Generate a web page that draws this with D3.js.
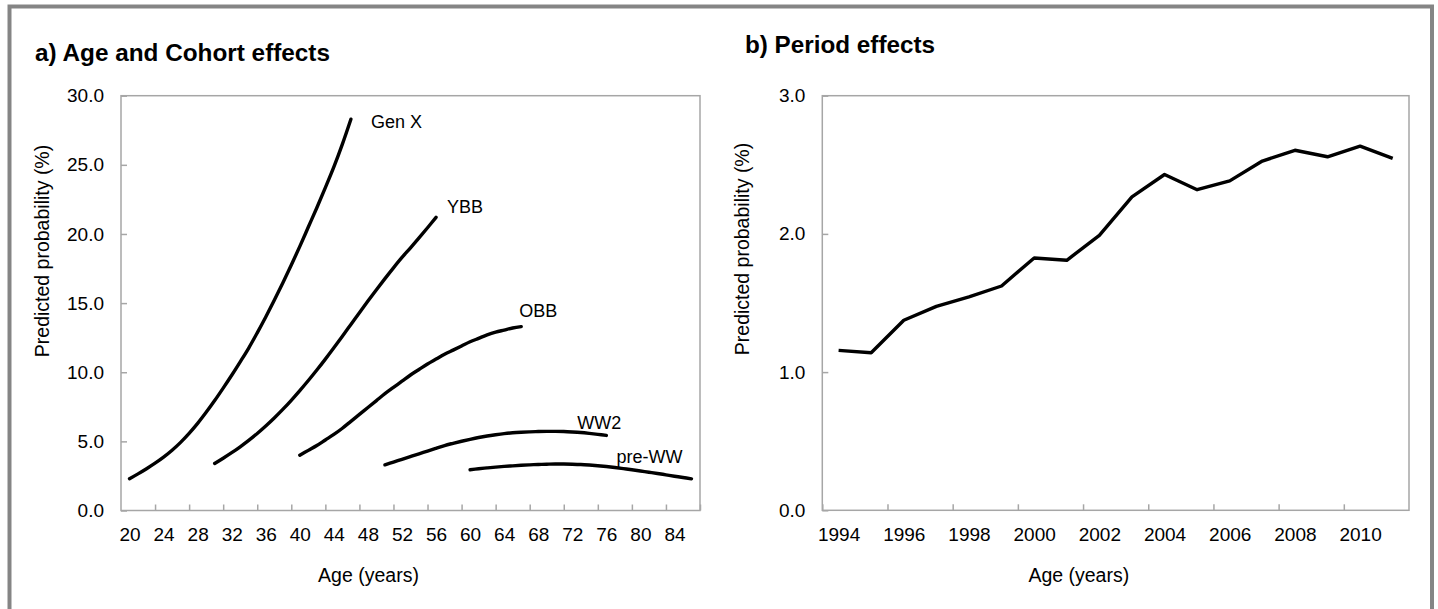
<!DOCTYPE html>
<html>
<head>
  <meta charset="utf-8">
  <title>Age, Cohort and Period effects</title>
  <script src="https://cdn.jsdelivr.net/npm/d3@7"></script>
  <style>
    body { margin: 0; background: #fff; }
    text { font-family: "Liberation Sans", Arial, sans-serif; }
  </style>
</head>
<body>
<script>
// a) cohorts: one value per year of age, starting at cohortStart
var cohortNames = ["Gen X", "YBB", "OBB", "WW2", "pre-WW"];
var cohortStart = [20, 30, 40, 50, 60];
var genX = [2.3, 2.65, 3.02, 3.42, 3.86, 4.36, 4.93, 5.58, 6.3, 7.1, 7.95, 8.85, 9.78, 10.75,
            11.75, 12.85, 14.0, 15.2, 16.45, 17.75, 19.1, 20.5, 21.9, 23.35, 24.85, 26.5, 28.3];
var ybb = [3.4, 3.78, 4.18, 4.61, 5.07, 5.57, 6.11, 6.69, 7.31, 7.97, 8.67, 9.4, 10.16, 10.95,
           11.77, 12.61, 13.46, 14.31, 15.15, 15.97, 16.77, 17.55, 18.3, 19.0, 19.72, 20.45, 21.2];
var obb = [4.0, 4.35, 4.7, 5.1, 5.5, 5.95, 6.45, 6.95, 7.45, 7.95, 8.45, 8.9, 9.35, 9.8, 10.2,
           10.6, 10.95, 11.3, 11.6, 11.9, 12.2, 12.45, 12.7, 12.9, 13.05, 13.2, 13.3];
var ww2 = [3.3, 3.5, 3.7, 3.9, 4.1, 4.3, 4.5, 4.7, 4.86, 5.01, 5.15, 5.28, 5.39, 5.48, 5.56,
           5.62, 5.66, 5.69, 5.71, 5.72, 5.72, 5.71, 5.68, 5.64, 5.58, 5.51, 5.43];
var preWW = [2.95, 3.02, 3.08, 3.14, 3.19, 3.23, 3.27, 3.3, 3.33, 3.35, 3.36, 3.36, 3.35, 3.33,
             3.29, 3.24, 3.18, 3.11, 3.03, 2.95, 2.86, 2.77, 2.68, 2.58, 2.48, 2.39, 2.29];
var ageLabels = [20, 24, 28, 32, 36, 40, 44, 48, 52, 56, 60, 64, 68, 72, 76, 80, 84];
var probTicksA = [0, 5, 10, 15, 20, 25, 30];

// b) period
var years = [1994, 1995, 1996, 1997, 1998, 1999, 2000, 2001, 2002,
             2003, 2004, 2005, 2006, 2007, 2008, 2009, 2010, 2011];
var period = [1.157, 1.14, 1.375, 1.476, 1.544, 1.623, 1.826, 1.809, 1.99,
              2.268, 2.43, 2.32, 2.384, 2.527, 2.605, 2.558, 2.635, 2.546];
var yearLabels = [1994, 1996, 1998, 2000, 2002, 2004, 2006, 2008, 2010];
var probTicksB = [0, 1, 2, 3];

var width = 1438, height = 609;
var boxColor = "#a6a6a6";

var svg = d3.select("body").append("svg")
  .attr("width", width).attr("height", height);

// outer frame (open at the bottom)
svg.append("rect")
  .attr("x", 9.5).attr("y", 6.5)
  .attr("width", 1422.5).attr("height", 700)
  .attr("fill", "none")
  .attr("stroke", "#858585")
  .attr("stroke-width", 4);

function styleAxis(g, size) {
  g.select(".domain").remove();
  g.selectAll(".tick line").attr("stroke", boxColor).attr("stroke-width", 1.5);
  g.selectAll(".tick text").attr("fill", "#000").attr("font-size", size + "px")
    .attr("font-family", "'Liberation Sans', Arial, sans-serif");
}

function drawPanel(p) {
  // plot box
  svg.append("rect")
    .attr("x", p.x.range()[0]).attr("y", p.y.range()[1])
    .attr("width", p.x.range()[1] - p.x.range()[0])
    .attr("height", p.y.range()[0] - p.y.range()[1])
    .attr("fill", "none")
    .attr("stroke", boxColor)
    .attr("stroke-width", 1.5);

  // y axis
  svg.append("g")
    .attr("transform", "translate(" + p.x.range()[0] + ",0)")
    .call(d3.axisLeft(p.y).tickValues(p.yTicks).tickFormat(d3.format(".1f"))
      .tickSizeInner(-6).tickSizeOuter(0).tickPadding(17))
    .call(styleAxis, 19);

  // x tick marks (group boundaries)
  svg.append("g")
    .attr("transform", "translate(0," + p.y.range()[0] + ")")
    .call(d3.axisBottom(p.x).tickValues(p.xMarks).tickFormat("")
      .tickSizeInner(-6).tickSizeOuter(0))
    .call(styleAxis, 19);

  // x labels
  svg.append("g")
    .attr("transform", "translate(0," + p.y.range()[0] + ")")
    .call(d3.axisBottom(p.x).tickValues(p.xLabels).tickFormat(d3.format("d"))
      .tickSize(0).tickPadding(17.5))
    .call(styleAxis, 19)
    .selectAll(".tick line").remove();

  // axis titles
  svg.append("text")
    .attr("transform", "translate(" + p.yTitleX + "," + p.yTitleY + ") rotate(-90)")
    .attr("text-anchor", "middle")
    .attr("font-size", "19.5px")
    .text("Predicted probability (%)");

  svg.append("text")
    .attr("x", p.xTitleX).attr("y", 581.7)
    .attr("text-anchor", "middle")
    .attr("font-size", "19.5px")
    .text("Age (years)");

  // panel title
  svg.append("text")
    .attr("x", p.titleX).attr("y", p.titleY)
    .attr("font-size", "23px")
    .attr("font-weight", "bold")
    .attr("textLength", p.titleLen)
    .attr("lengthAdjust", "spacingAndGlyphs")
    .text(p.title);
}

// ---- panel a ----
var xA = d3.scaleLinear().domain([19, 87]).range([121, 700]);
var yA = d3.scaleLinear().domain([0, 30]).range([510.5, 95.7]);

drawPanel({
  x: xA, y: yA, yTicks: probTicksA,
  xMarks: ageLabels.map(function(d) { return d + 3; }),
  xLabels: ageLabels,
  yTitleX: 48.5, yTitleY: 251, xTitleX: 368.5,
  title: "a) Age and Cohort effects", titleX: 35, titleY: 60.5, titleLen: 295
});

var cohorts = [genX, ybb, obb, ww2, preWW].map(function(vals, i) {
  return vals.map(function(v, j) { return [cohortStart[i] + j, v]; });
});

var lineA = d3.line()
  .x(function(d) { return xA(d[0]); })
  .y(function(d) { return yA(d[1]); })
  .curve(d3.curveCatmullRom);

svg.selectAll(".cohort")
  .data(cohorts)
  .enter().append("path")
  .attr("class", "cohort")
  .attr("fill", "none")
  .attr("stroke", "#000")
  .attr("stroke-width", 3.4)
  .attr("stroke-linecap", "round")
  .attr("d", lineA);

// series names placed near the end of each curve
var labelOffset = [[20, 9], [11, -4], [-2, -10], [-29, -6], [-75, -16]];
svg.selectAll(".cohort-label")
  .data(cohorts)
  .enter().append("text")
  .attr("class", "cohort-label")
  .attr("x", function(d, i) { return xA(d[d.length - 1][0]) + labelOffset[i][0]; })
  .attr("y", function(d, i) { return yA(d[d.length - 1][1]) + labelOffset[i][1]; })
  .attr("font-size", "18px")
  .text(function(d, i) { return cohortNames[i]; });

// ---- panel b ----
var xB = d3.scaleLinear().domain([1993.5, 2011.5]).range([822.3, 1409]);
var yB = d3.scaleLinear().domain([0, 3]).range([510.3, 95.7]);

drawPanel({
  x: xB, y: yB, yTicks: probTicksB,
  xMarks: yearLabels.map(function(d) { return d - 0.5; }),
  xLabels: yearLabels,
  yTitleX: 748.5, yTitleY: 249, xTitleX: 1078.8,
  title: "b) Period effects", titleX: 745, titleY: 52.7, titleLen: 190
});

svg.append("path")
  .datum(years.map(function(y, i) { return [y, period[i]]; }))
  .attr("fill", "none")
  .attr("stroke", "#000")
  .attr("stroke-width", 3.4)
  .attr("stroke-linejoin", "round")
  .attr("d", d3.line()
    .x(function(d) { return xB(d[0]); })
    .y(function(d) { return yB(d[1]); }));
</script>
</body>
</html>
